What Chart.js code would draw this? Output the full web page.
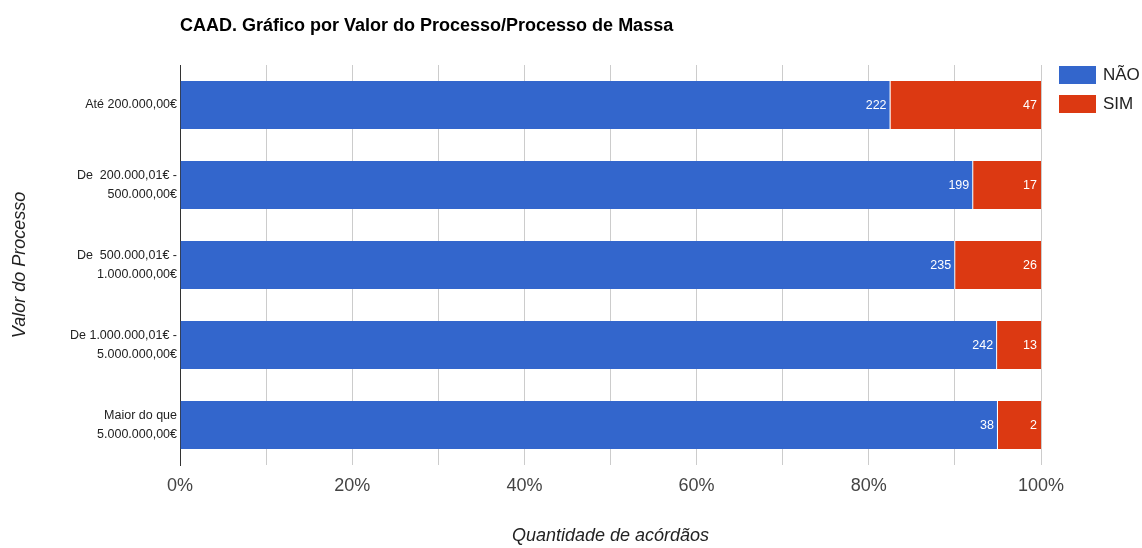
<!DOCTYPE html>
<html>
<head>
<meta charset="utf-8">
<script src="https://cdn.jsdelivr.net/npm/chart.js@4"></script>
<style>
  html, body { margin: 0; padding: 0; background: #fff; }
  #wrap { width: 1142px; height: 548px; position: relative; }
</style>
</head>
<body>
<div id="wrap"><canvas id="myChart"></canvas></div>
<script>
const chartTitle = "CAAD. Gráfico por Valor do Processo/Processo de Massa";
const categories = [
  "Até 200.000,00€",
  ["De  200.000,01€ -", "500.000,00€"],
  ["De  500.000,01€ -", "1.000.000,00€"],
  ["De 1.000.000,01€ -", "5.000.000,00€"],
  ["Maior do que", "5.000.000,00€"]
];
const seriesNames = ["NÃO", "SIM"];
const naoValues = [222, 199, 235, 242, 38];
const simValues = [47, 17, 26, 13, 2];
const tickValues = [0, 20, 40, 60, 80, 100];
const colors = ['#3366cc', '#dc3912'];

// 100% stacked: turn counts into shares of each row
const totals = naoValues.map((v, i) => v + simValues[i]);
const naoPct = naoValues.map((v, i) => v / totals[i] * 100);
const simPct = simValues.map((v, i) => v / totals[i] * 100);
const counts = [naoValues, simValues];

const FONT = "'Liberation Sans', Arial, sans-serif";

const extras = {
  id: 'extras',
  afterDraw(chart) {
    const ctx = chart.ctx;
    const area = chart.chartArea;
    ctx.save();
    // title
    ctx.font = "bold 18px " + FONT;
    ctx.fillStyle = '#000';
    ctx.textAlign = 'left';
    ctx.textBaseline = 'middle';
    ctx.fillText(chartTitle, 180, 26);

    // value labels inside the bars
    ctx.font = "12.5px " + FONT;
    ctx.fillStyle = '#fff';
    ctx.textAlign = 'right';
    chart.data.datasets.forEach((ds, di) => {
      chart.getDatasetMeta(di).data.forEach((bar, i) => {
        ctx.fillText(String(counts[di][i]), bar.x - 4, bar.y + 1);
      });
    });

    // legend on the right
    ctx.font = "17px " + FONT;
    ctx.textAlign = 'left';
    chart.data.datasets.forEach((ds, di) => {
      const y = 66 + di * 29;
      ctx.fillStyle = ds.backgroundColor;
      ctx.fillRect(area.right + 18, y, 37, 18);
      ctx.fillStyle = '#222';
      ctx.fillText(ds.label, area.right + 62, y + 9);
    });
    ctx.restore();
  }
};

const ctx = document.getElementById('myChart').getContext('2d');
const chart = new Chart(ctx, {
  type: 'bar',
  data: {
    labels: categories,
    datasets: [
      { label: seriesNames[0], data: naoPct, backgroundColor: colors[0],
        borderColor: '#fff', borderWidth: { right: 1 }, borderSkipped: false },
      { label: seriesNames[1], data: simPct, backgroundColor: colors[1], borderWidth: 0 }
    ]
  },
  options: {
    indexAxis: 'y',
    responsive: true,
    maintainAspectRatio: false,
    animation: false,
    layout: { padding: { top: 65, right: 101, left: 0, bottom: 0 } },
    plugins: {
      legend: { display: false },
      tooltip: { enabled: false }
    },
    datasets: { bar: { barPercentage: 0.6, categoryPercentage: 1 } },
    scales: {
      x: {
        stacked: true,
        min: 0,
        max: 100,
        afterFit: s => { s.height = 83; },
        ticks: {
          stepSize: 10,
          padding: 10,
          color: '#444',
          font: { family: FONT, size: 18 },
          callback: v => tickValues.includes(v) ? v + '%' : ''
        },
        grid: {
          drawTicks: false,
          color: c => c.tick && c.tick.value === 0 ? '#333' : '#cccccc',
          lineWidth: 1
        },
        border: { display: false },
        title: {
          display: true,
          text: 'Quantidade de acórdãos',
          color: '#222',
          font: { family: FONT, size: 18, style: 'italic' },
          padding: { top: 0, bottom: 1 }
        }
      },
      y: {
        stacked: true,
        afterFit: s => { s.width = 180; },
        ticks: {
          padding: 3,
          color: '#222',
          font: { family: FONT, size: 12.5, lineHeight: 1.45 }
        },
        grid: { display: false, drawTicks: false },
        border: { display: true, color: '#333' },
        title: {
          display: true,
          text: 'Valor do Processo',
          color: '#222',
          font: { family: FONT, size: 18, style: 'italic' },
          padding: { top: 9, bottom: 0 }
        }
      }
    }
  },
  plugins: [extras]
});
</script>
</body>
</html>
